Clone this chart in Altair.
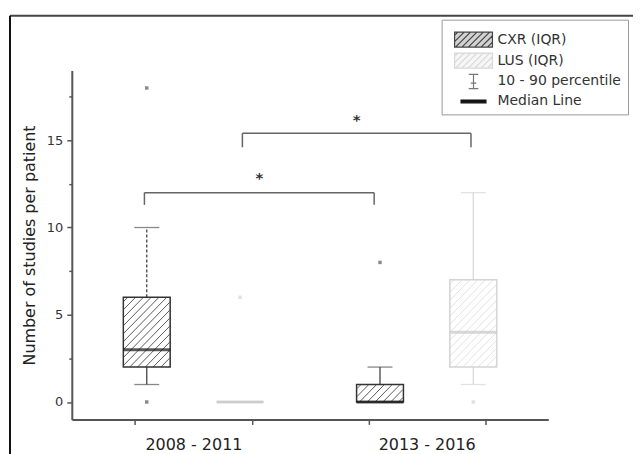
import altair as alt
import pandas as pd
import numpy as np

# ---------------- values ----------------
groups = ["2008 - 2011", "2013 - 2016"]
group_pos = [1.5, 3.5]
tick_pos = [1, 2, 3, 4]

box_series = ["CXR", "LUS", "CXR", "LUS"]
box_pos = [1.1, 1.9, 3.1, 3.9]
box_q1 = [2, 0, 0, 2]
box_median = [3, 0, 0, 4]
box_q3 = [6, 0, 1, 7]
box_p10 = [1, 0, 0, 1]
box_p90 = [10, 0, 2, 12]
box_upper_style = ["dash", "solid", "solid", "solid"]

outlier_series = ["CXR", "CXR", "LUS", "CXR", "LUS"]
outlier_pos = [1.1, 1.1, 1.9, 3.1, 3.9]
outlier_val = [0, 18, 6, 8, 0]

bracket_x1 = [1.08, 1.92]
bracket_x2 = [3.05, 3.88]
bracket_y = [12.0, 15.4]
bracket_end = [11.3, 14.6]
star_y = [13.0, 16.35]
star_text = ["*", "*"]

legend_labels = ["CXR (IQR)", "LUS (IQR)", "10 - 90 percentile", "Median Line"]
y_title = "Number of studies per patient"

# ---------------- layout ----------------
W, H = 478, 350
XDOM = [0.5, 4.5]
YDOM = [-1, 19]
PX = W / (XDOM[1] - XDOM[0])
PY = H / (YDOM[1] - YDOM[0])
BOX_W = 47
FONT = "DejaVu Sans"

series_dom = ["CXR", "LUS"]


def sc(rng):
    return alt.Scale(domain=series_dom, range=rng)


label_expr = " : ".join(
    f"datum.value == {p} ? '{g}'" for g, p in zip(groups, group_pos)
) + " : ''"
hide_test = " || ".join(f"datum.value == {p}" for p in group_pos)

xaxis = alt.Axis(
    values=sorted(tick_pos + group_pos), labelExpr=label_expr,
    tickOpacity={"condition": {"test": hide_test, "value": 0}, "value": 1},
    grid=False, domainColor="#555", domainWidth=2, tickColor="#555",
    tickWidth=1.5, tickSize=5, labelFontSize=16, labelColor="#222",
    labelPadding=12, title=None, labelOverlap=False, labelFont=FONT,
)
yaxis = alt.Axis(
    values=[0, 2.5, 5, 7.5, 10, 12.5, 15, 17.5],
    labelExpr="datum.value % 5 == 0 ? datum.label : ''",
    tickSize={"condition": {"test": "datum.value % 5 != 0", "value": 3}, "value": 5},
    grid=False, domainColor="#555", domainWidth=2, tickColor="#555",
    tickWidth=1.5, labelFontSize=13, labelColor="#333", labelPadding=4,
    title=y_title, titleFontSize=16, titleFontWeight="normal", titleColor="#222",
    titlePadding=9, titleFont=FONT, labelFont=FONT, labelOverlap=False,
)
xscale = alt.Scale(domain=XDOM, nice=False, zero=False)
yscale = alt.Scale(domain=YDOM, nice=False, zero=False)


def X(f):
    return alt.X(f, type="quantitative", scale=xscale, axis=xaxis)


def Y(f):
    return alt.Y(f, type="quantitative", scale=yscale, axis=yaxis)


# ---------------- tables ----------------
boxes = pd.DataFrame({
    "series": box_series, "pos": box_pos, "q1": box_q1, "med": box_median,
    "q3": box_q3, "p10": box_p10, "p90": box_p90, "ustyle": box_upper_style,
})

# hatch segments (style of the IQR boxes)
hrows = []
SP = 8.0
for s, c, lo, hi in zip(box_series, box_pos, box_q1, box_q3):
    hb = (hi - lo) * PY
    if hb <= 0:
        continue
    d = -hb + SP / 2
    while d < BOX_W:
        if d >= 0:
            u0, v0 = d, 0.0
        else:
            u0, v0 = 0.0, -d
        if BOX_W - d <= hb:
            u1, v1 = BOX_W, BOX_W - d
        else:
            u1, v1 = hb + d, hb
        hrows.append({
            "series": s,
            "x": c + (u0 - BOX_W / 2) / PX, "y": lo + v0 / PY,
            "x2": c + (u1 - BOX_W / 2) / PX, "y2": lo + v1 / PY,
        })
        d += SP
hatch = pd.DataFrame(hrows)

wrows = []
crows = []
for r in boxes.itertuples():
    if r.p90 > r.q3:
        wrows.append({"series": r.series, "pos": r.pos, "a": r.q3, "b": r.p90, "style": r.ustyle})
        crows.append({"series": r.series, "pos": r.pos, "v": r.p90})
    if r.p10 < r.q1:
        wrows.append({"series": r.series, "pos": r.pos, "a": r.p10, "b": r.q1, "style": "solid"})
        crows.append({"series": r.series, "pos": r.pos, "v": r.p10})
whisk = pd.DataFrame(wrows)
caps = pd.DataFrame(crows)

outl = pd.DataFrame({"series": outlier_series, "pos": outlier_pos, "v": outlier_val})

brows = []
for x1, x2, yb, ye in zip(bracket_x1, bracket_x2, bracket_y, bracket_end):
    brows.append({"x": x1, "x2": x2, "y": yb, "y2": yb})
    brows.append({"x": x1, "x2": x1, "y": ye, "y2": yb})
    brows.append({"x": x2, "x2": x2, "y": ye, "y2": yb})
brk = pd.DataFrame(brows)
stars = pd.DataFrame({
    "x": [(a + b) / 2 for a, b in zip(bracket_x1, bracket_x2)],
    "y": star_y, "t": star_text,
})

# ---------------- legend symbols (custom paths) ----------------
def hatched_rect_path(a, b, sp):
    p = f"M{-a},{-b}L{a},{-b}L{a},{b}L{-a},{b}Z"
    wb, hb = 2 * a, 2 * b
    d = -hb + sp / 2
    while d < wb:
        if d >= 0:
            u0, v0 = d, 0.0
        else:
            u0, v0 = 0.0, -d
        if wb - d <= hb:
            u1, v1 = wb, wb - d
        else:
            u1, v1 = hb + d, hb
        p += f"M{-a + u0:.3f},{b - v0:.3f}L{-a + u1:.3f},{b - v1:.3f}"
        d += sp
    return p


path_cxr = hatched_rect_path(2.375, 0.94, 0.8)
path_lus = hatched_rect_path(2.375, 0.94, 0.8)
path_whisk = "M-0.6,-0.9L0.6,-0.9M0,-0.9L0,0.9M-0.6,0.9L0.6,0.9M-0.35,0.2L0.35,0.2"
path_med = "M-1.56,-0.17L1.56,-0.17L1.56,0.17L-1.56,0.17Z"

leg = pd.DataFrame({"label": legend_labels, "x": [None] * 4, "y": [None] * 4})

# ---------------- layers ----------------
one = pd.DataFrame({"k": [0]})
frame_top = alt.Chart(one).mark_rule(color="#444", strokeWidth=2, clip=False).encode(
    x=alt.value(-62), x2=alt.value(700), y=alt.value(-55))
frame_left = alt.Chart(one).mark_rule(color="#111", strokeWidth=2, clip=False).encode(
    x=alt.value(-62), y=alt.value(-55), y2=alt.value(500))

hatch_l = alt.Chart(hatch).mark_rule(strokeWidth=1).encode(
    x=X("x"), y=Y("y"), x2="x2", y2="y2",
    stroke=alt.Stroke("series:N", scale=sc(["#5a5a5a", "#e2e2e2"]), legend=None))

whisk_l = alt.Chart(whisk).mark_rule(strokeWidth=1.3).encode(
    x=X("pos"), y=Y("a"), y2="b",
    stroke=alt.Stroke("series:N", scale=sc(["#444", "#dadada"]), legend=None),
    strokeDash=alt.StrokeDash("style:N", scale=alt.Scale(domain=["solid", "dash"], range=[[1, 0], [3, 2]]), legend=None))

caps_l = alt.Chart(caps).mark_tick(orient="horizontal", size=25, thickness=1.3).encode(
    x=X("pos"), y=Y("v"),
    color=alt.Color("series:N", scale=sc(["#555", "#d6d6d6"]), legend=None))

box_l = alt.Chart(boxes).mark_bar(size=BOX_W, fillOpacity=0, strokeWidth=1.5).encode(
    x=X("pos"), y=Y("q1"), y2="q3",
    stroke=alt.Stroke("series:N", scale=sc(["#333", "#d4d4d4"]), legend=None))

med_l = alt.Chart(boxes).mark_tick(orient="horizontal", size=BOX_W, thickness=3).encode(
    x=X("pos"), y=Y("med"),
    color=alt.Color("series:N", scale=sc(["#111", "#c6c6c6"]), legend=None))

out_l = alt.Chart(outl).mark_point(shape="square", size=12, filled=True, opacity=1).encode(
    x=X("pos"), y=Y("v"),
    color=alt.Color("series:N", scale=sc(["#8a8a8a", "#e0e0e0"]), legend=None))

brk_l = alt.Chart(brk).mark_rule(color="#666", strokeWidth=1.5).encode(
    x=X("x"), x2="x2", y=Y("y"), y2="y2")

star_l = alt.Chart(stars).mark_text(fontSize=15, fontWeight="bold", color="#333",
                                    baseline="alphabetic", dy=8, font=FONT).encode(
    x=X("x"), y=Y("y"), text="t:N")

leg_l = alt.Chart(leg).mark_point(size=256, strokeWidth=1.2, opacity=1).encode(
    x=X("x"), y=Y("y"),
    shape=alt.Shape("label:N", scale=alt.Scale(domain=legend_labels,
                    range=[path_cxr, path_lus, path_whisk, path_med]),
                    legend=alt.Legend(
                        title=" ", titleFontSize=4, titlePadding=1,
                        orient="none", legendX=371, legendY=-51,
                        padding=6, symbolSize=256, symbolOffset=17, labelOffset=15,
                        rowPadding=1, strokeColor="#9a9a9a", fillColor="white",
                        labelFont=FONT, labelFontSize=14, labelColor="#333",
                        symbolStrokeWidth=1.2)),
    fill=alt.Fill("label:N", scale=alt.Scale(domain=legend_labels,
                  range=["#d2d2d2", "#f6f6f6", "#888888", "#111111"])),
    stroke=alt.Stroke("label:N", scale=alt.Scale(domain=legend_labels,
                      range=["#444444", "#d8d8d8", "#777777", "#111111"])),
)

chart = alt.layer(
    frame_top, frame_left, hatch_l, whisk_l, caps_l, box_l, med_l, out_l,
    brk_l, star_l, leg_l,
).resolve_scale(
    stroke="independent", color="independent", fill="independent",
    shape="independent", strokeDash="independent",
).properties(
    width=W, height=H,
    autosize=alt.AutoSizeParams(type="none"),
    padding={"left": 64, "top": 62, "right": 85, "bottom": 40},
).configure(font=FONT).configure_view(stroke=None)

chart.save("out.html", embed_options={"renderer": "svg", "actions": False})
